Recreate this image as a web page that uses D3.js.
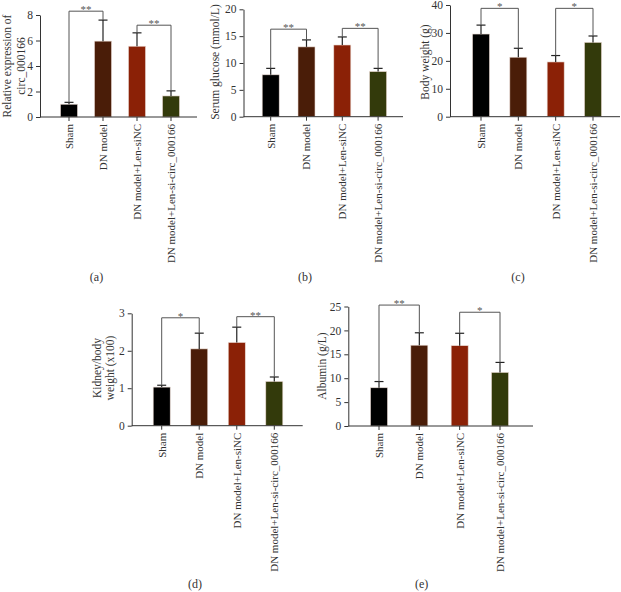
<!DOCTYPE html>
<html><head><meta charset="utf-8">
<script src="https://cdn.jsdelivr.net/npm/d3@7"></script>
<style>html,body{margin:0;padding:0;background:#fff;} svg{display:block;} text{font-family:"Liberation Serif","Times New Roman",serif;}</style>
</head><body>
<script>
// ---- data ----
const categories = ["Sham", "DN model", "DN model+Len-siNC", "DN model+Len-si-circ_000166"];
const colors = ["#000000", "#4a1d08", "#8b2106", "#333a0b"];

const expressionMean = [1.0, 5.95, 5.55, 1.65];
const expressionSD   = [0.15, 1.65, 1.05, 0.4];
const glucoseMean = [7.8, 13.0, 13.35, 8.4];
const glucoseSD   = [1.2, 1.3, 1.5, 0.6];
const bodyMean = [29.6, 21.3, 19.6, 26.6];
const bodySD   = [3.2, 3.2, 2.3, 2.3];
const kidneyMean = [1.03, 2.05, 2.22, 1.18];
const kidneySD   = [0.05, 0.42, 0.41, 0.12];
const albuminMean = [8.0, 16.9, 16.8, 11.2];
const albuminSD   = [1.3, 2.6, 2.6, 2.1];

const ticksA = [0, 2, 4, 6, 8];
const ticksB = [0, 5, 10, 15, 20];
const ticksC = [0, 10, 20, 30, 40];
const ticksD = [0, 1, 2, 3];
const ticksE = [0, 5, 10, 15, 20, 25];

const sigA = [{from: 0, to: 1, at: 8.3, label: "**"}, {from: 2, to: 3, at: 7.2, label: "**"}];
const sigB = [{from: 0, to: 1, at: 16.3, label: "**"}, {from: 2, to: 3, at: 16.45, label: "**"}];
const sigC = [{from: 0, to: 1, at: 38.8, label: "*"}, {from: 2, to: 3, at: 38.8, label: "*"}];
const sigD = [{from: 0, to: 1, at: 2.88, label: "*"}, {from: 2, to: 3, at: 2.91, label: "**"}];
const sigE = [{from: 0, to: 1, at: 25.3, label: "**"}, {from: 2, to: 3, at: 23.8, label: "*"}];

// ---- layout ----
const W = 621, H = 592;
const FONT = "'Liberation Serif', 'Times New Roman', serif";
const svg = d3.select("body").append("svg").attr("width", W).attr("height", H)
  .attr("font-family", FONT);

const panels = [
  {mean: expressionMean, sd: expressionSD, ticks: ticksA, sig: sigA,
   title: ["Relative expression of", "circ_000166"], titleX: [7, 21], titleY: 66,
   axisX: 40, axisEnd: 197, centers: [69, 171], yTop: 15, yBot: 117,
   letter: "(a)", letterX: 96.5, letterY: 281},
  {mean: glucoseMean, sd: glucoseSD, ticks: ticksB, sig: sigB,
   title: ["Serum glucose (mmol/L)"], titleX: [214.5], titleY: 62,
   axisX: 243.5, axisEnd: 403, centers: [270.7, 378.1], yTop: 9.3, yBot: 116.7,
   letter: "(b)", letterX: 305, letterY: 281},
  {mean: bodyMean, sd: bodySD, ticks: ticksC, sig: sigC,
   title: ["Body weight (g)"], titleX: [425], titleY: 62,
   axisX: 450, axisEnd: 620, centers: [481, 593], yTop: 5, yBot: 116.7,
   letter: "(c)", letterX: 518, letterY: 281},
  {mean: kidneyMean, sd: kidneySD, ticks: ticksD, sig: sigD,
   title: ["Kidney/body", "weight (x100)"], titleX: [97, 110], titleY: 368,
   axisX: 131.7, axisEnd: 302.7, centers: [161.7, 274.3], yTop: 313.3, yBot: 425.7,
   letter: "(d)", letterX: 195, letterY: 588},
  {mean: albuminMean, sd: albuminSD, ticks: ticksE, sig: sigE,
   title: ["Albumin (g/L)"], titleX: [321.7], titleY: 366,
   axisX: 348.3, axisEnd: 533, centers: [379, 500], yTop: 306.5, yBot: 426,
   letter: "(e)", letterX: 421.7, letterY: 588}
];

const AXIS = "#333";
const BAR_W = 17;

panels.forEach(p => {
  const g = svg.append("g");
  const y = d3.scaleLinear().domain([0, d3.max(p.ticks)]).range([p.yBot, p.yTop]);
  const x = d3.scalePoint().domain(categories).range(p.centers).padding(0);

  // bars
  g.selectAll("rect.bar").data(categories).enter().append("rect")
    .attr("x", d => x(d) - BAR_W / 2)
    .attr("width", BAR_W)
    .attr("y", (d, i) => y(p.mean[i]))
    .attr("height", (d, i) => y(0) - y(p.mean[i]))
    .attr("fill", (d, i) => colors[i])
    .attr("stroke", "#e8d8d0").attr("stroke-width", 0.6);

  // error bars (upper)
  categories.forEach((c, i) => {
    const cx = x(c), top = y(p.mean[i] + p.sd[i]);
    g.append("line").attr("x1", cx).attr("x2", cx)
      .attr("y1", y(p.mean[i])).attr("y2", top)
      .attr("stroke", "#222").attr("stroke-width", 1.2);
    g.append("line").attr("x1", cx - 4.5).attr("x2", cx + 4.5)
      .attr("y1", top).attr("y2", top)
      .attr("stroke", "#222").attr("stroke-width", 1.2);
  });

  // y axis
  const yAxis = d3.axisLeft(y).tickValues(p.ticks).tickFormat(d3.format("d"))
    .tickSize(4).tickPadding(3).tickSizeOuter(0);
  const ya = g.append("g").attr("transform", `translate(${p.axisX},0)`).call(yAxis);
  ya.attr("font-family", FONT);
  ya.select(".domain").attr("stroke", AXIS);
  ya.selectAll(".tick line").attr("stroke", AXIS);
  ya.selectAll(".tick text").attr("fill", "#333").style("font-size", "11.5px");

  // x axis
  g.append("line").attr("x1", p.axisX).attr("x2", p.axisEnd)
    .attr("y1", p.yBot).attr("y2", p.yBot).attr("stroke", AXIS);
  categories.forEach(c => {
    g.append("line").attr("x1", x(c)).attr("x2", x(c))
      .attr("y1", p.yBot).attr("y2", p.yBot + 4).attr("stroke", AXIS);
    g.append("text")
      .attr("transform", `translate(${x(c)},${p.yBot + 7}) rotate(-90)`)
      .attr("text-anchor", "end").attr("dy", "0.35em")
      .attr("fill", "#333").style("font-size", "11px")
      .text(c);
  });

  // y title
  p.title.forEach((t, k) => {
    g.append("text")
      .attr("transform", `translate(${p.titleX[k]},${p.titleY}) rotate(-90)`)
      .attr("text-anchor", "middle").attr("dy", "0.35em")
      .attr("fill", "#333").style("font-size", "11.5px")
      .text(t);
  });

  // significance brackets
  p.sig.forEach(s => {
    const xa = x(categories[s.from]), xb = x(categories[s.to]);
    const yl = y(s.at);
    const ya1 = y(p.mean[s.from] + p.sd[s.from]);
    const yb1 = y(p.mean[s.to] + p.sd[s.to]);
    g.append("path")
      .attr("d", `M${xa},${ya1}V${yl}H${xb}V${yb1}`)
      .attr("fill", "none").attr("stroke", "#555").attr("stroke-width", 1);
    g.append("text").attr("x", (xa + xb) / 2).attr("y", yl + 2)
      .attr("text-anchor", "middle").attr("fill", "#555")
      .style("font-size", "11px").text(s.label);
  });

  // panel letter
  g.append("text").attr("x", p.letterX).attr("y", p.letterY)
    .attr("text-anchor", "middle").attr("fill", "#333")
    .style("font-size", "12px").text(p.letter);
});
</script>
</body></html>
